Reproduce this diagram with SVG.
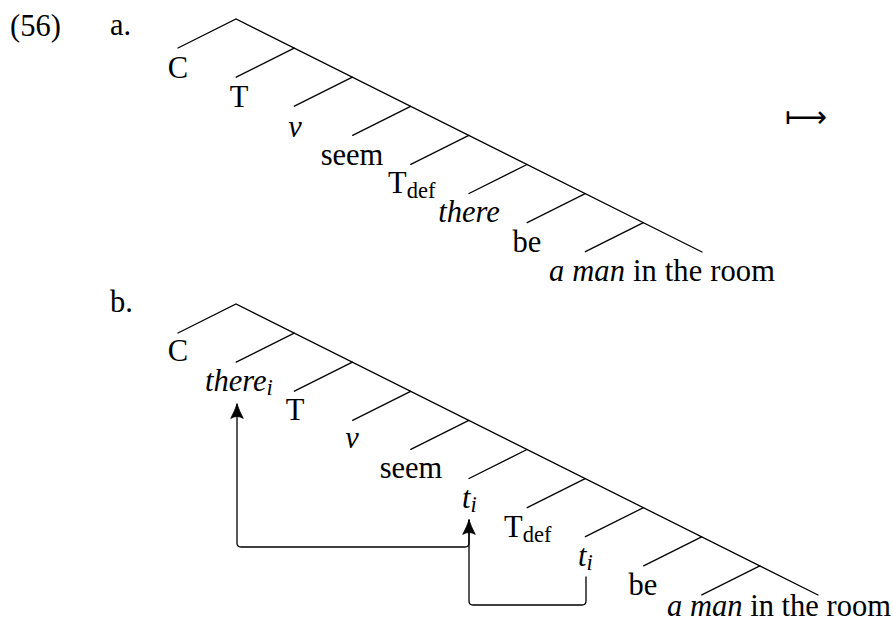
<svg xmlns="http://www.w3.org/2000/svg" width="893" height="626" viewBox="0 0 893 626">
<defs>
<style>
.ln{stroke:#000;stroke-width:1.3;fill:none;stroke-linecap:round}
.t{font-family:"Liberation Serif","Times New Roman",serif;font-size:30.5px;fill:#000}
.it{font-style:italic}
.sub{font-size:22.5px}
.mid{text-anchor:middle}
</style>
<marker id="ah" markerUnits="userSpaceOnUse" markerWidth="20" markerHeight="20" viewBox="-14 -8 16 16" refX="0" refY="0" orient="auto">
<path d="M0,0 Q-5,1.6 -11.5,5 Q-8.5,0 -11.5,-5 Q-5,-1.6 0,0 Z" fill="#000" stroke="#000" stroke-width="0.6" stroke-linejoin="round"/>
</marker>
</defs>
<rect width="893" height="626" fill="#fff"/>
<text class="t" x="10" y="36">(56)</text>
<text class="t" x="110" y="35">a.</text>
<text class="t" x="110" y="312">b.</text>
<text x="785" y="127" font-family="DejaVu Sans,sans-serif" font-size="30" textLength="42" lengthAdjust="spacingAndGlyphs">⟼</text>

<g id="tree-a">
<path class="ln" d="M178,48 L236,19 L702,252"/>
<path class="ln" d="M294.2,48.1 L236.2,77.1 M352.4,77.2 L294.4,106.2 M410.6,106.3 L352.6,135.3 M468.8,135.4 L410.8,164.4 M527,164.5 L469,193.5 M585.2,193.6 L527.2,222.6 M643.4,222.7 L585.4,251.7"/>
</g>
<g id="a-C"><text class="t mid" x="178" y="78">C</text></g>
<g id="a-T"><text class="t mid" x="239" y="107">T</text></g>
<g id="a-v"><text class="t mid it" x="295" y="137">v</text></g>
<g id="a-seem"><text class="t mid" x="352" y="165">seem</text></g>
<g id="a-Tdef"><text class="t" x="388" y="193">T<tspan class="sub" dy="5">def</tspan></text></g>
<g id="a-there"><text class="t mid it" x="469" y="222">there</text></g>
<g id="a-be"><text class="t mid" x="527" y="252">be</text></g>
<g id="a-aman"><text class="t" x="549" y="281" textLength="226"><tspan class="it">a man</tspan> in the room</text></g>

<g id="tree-b">
<path class="ln" d="M178,333 L236,304 L818,595"/>
<path class="ln" d="M294.2,333.1 L236.2,362.1 M352.4,362.2 L294.4,391.2 M410.6,391.3 L352.6,420.3 M468.8,420.4 L410.8,449.4 M527,449.5 L469,478.5 M585.2,478.6 L527.2,507.6 M643.4,507.7 L585.4,536.7 M701.6,536.8 L643.6,565.8 M759.8,565.9 L701.8,594.9"/>
</g>
<g id="b-C"><text class="t mid" x="178" y="361">C</text></g>
<g id="b-there"><text class="t it" x="205" y="391">there<tspan class="sub" dy="4">i</tspan></text></g>
<g id="b-T"><text class="t mid" x="295" y="420">T</text></g>
<g id="b-v"><text class="t mid it" x="352" y="448">v</text></g>
<g id="b-seem"><text class="t mid" x="411" y="478">seem</text></g>
<g id="b-t1"><text class="t it" x="462" y="508">t<tspan class="sub" dy="4">i</tspan></text></g>
<g id="b-Tdef"><text class="t" x="504" y="537">T<tspan class="sub" dy="5">def</tspan></text></g>
<g id="b-t2"><text class="t it" x="578" y="566">t<tspan class="sub" dy="4">i</tspan></text></g>
<g id="b-be"><text class="t mid" x="643" y="595">be</text></g>
<g id="b-aman"><text class="t" x="667" y="616" textLength="224"><tspan class="it">a man</tspan> in the room</text></g>

<g id="connectors">
<path class="ln" d="M469,520 V543 Q469,547 465,547 H241 Q237,547 237,543 V404" marker-end="url(#ah)"/>
<path class="ln" d="M586,577 V601 Q586,605 582,605 H473 Q469,605 469,601 V520" marker-end="url(#ah)"/>
</g>
</svg>
